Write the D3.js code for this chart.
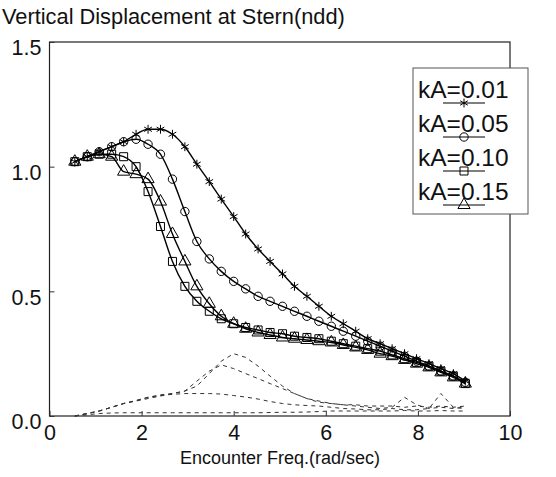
<!DOCTYPE html>
<html>
<head>
<meta charset="utf-8">
<script src="https://cdn.jsdelivr.net/npm/d3@7"></script>
<style>
  body { margin: 0; background: #fff; }
  text { font-family: "Liberation Sans", Arial, sans-serif; fill: #111; }
</style>
</head>
<body>
<div id="chart-area"></div>
<script>
// Encounter frequencies (rad/sec)
let freq = [0.55, 0.82, 1.08, 1.35, 1.61, 1.88, 2.14, 2.41, 2.67, 2.94, 3.20,
            3.47, 3.73, 4.00, 4.26, 4.53, 4.79, 5.06, 5.32, 5.59, 5.85, 6.12,
            6.38, 6.65, 6.91, 7.18, 7.44, 7.71, 7.97, 8.24, 8.50, 8.77, 9.03];

// Solid curves, one per wave steepness
let kA001 = [1.02, 1.04, 1.06, 1.08, 1.10, 1.13, 1.15, 1.15, 1.13, 1.08, 1.01,
             0.94, 0.87, 0.80, 0.73, 0.67, 0.62, 0.57, 0.52, 0.48, 0.44, 0.40,
             0.37, 0.34, 0.31, 0.29, 0.27, 0.25, 0.23, 0.21, 0.19, 0.17, 0.14];
let kA005 = [1.02, 1.04, 1.06, 1.08, 1.10, 1.11, 1.09, 1.05, 0.95, 0.82, 0.70,
             0.63, 0.58, 0.54, 0.51, 0.48, 0.46, 0.44, 0.42, 0.40, 0.38, 0.36,
             0.34, 0.32, 0.30, 0.28, 0.26, 0.24, 0.22, 0.20, 0.18, 0.16, 0.135];
let kA010 = [1.02, 1.04, 1.05, 1.05, 1.04, 1.00, 0.90, 0.76, 0.62, 0.52, 0.46,
             0.42, 0.39, 0.37, 0.355, 0.345, 0.335, 0.33, 0.32, 0.315, 0.31, 0.30,
             0.29, 0.28, 0.27, 0.26, 0.245, 0.23, 0.215, 0.20, 0.18, 0.16, 0.13];
let kA015 = [1.02, 1.04, 1.05, 1.04, 0.98, 0.97, 0.95, 0.86, 0.73, 0.62, 0.52,
             0.45, 0.40, 0.37, 0.35, 0.335, 0.325, 0.315, 0.31, 0.305, 0.30, 0.295,
             0.285, 0.275, 0.265, 0.25, 0.24, 0.225, 0.21, 0.195, 0.175, 0.155, 0.13];

// Dashed curves
let dashA = [0.0, 0.01, 0.02, 0.035, 0.05, 0.06, 0.07, 0.08, 0.09, 0.10, 0.12,
             0.17, 0.22, 0.25, 0.235, 0.20, 0.16, 0.12, 0.09, 0.07, 0.06, 0.05,
             0.045, 0.045, 0.04, 0.04, 0.04, 0.035, 0.04, 0.035, 0.04, 0.035, 0.04];
let dashB = [0.0, 0.01, 0.02, 0.035, 0.05, 0.062, 0.075, 0.085, 0.09, 0.10, 0.14,
             0.18, 0.205, 0.19, 0.17, 0.15, 0.13, 0.11, 0.09, 0.07, 0.055, 0.05,
             0.045, 0.04, 0.035, 0.03, 0.035, 0.075, 0.045, 0.03, 0.035, 0.03, 0.035];
let dashC = [0.0, 0.01, 0.02, 0.035, 0.05, 0.062, 0.075, 0.082, 0.087, 0.09, 0.09,
             0.09, 0.088, 0.082, 0.076, 0.068, 0.058, 0.05, 0.045, 0.042, 0.04, 0.035,
             0.03, 0.028, 0.025, 0.025, 0.03, 0.025, 0.025, 0.03, 0.09, 0.035, 0.03];
let dashD = [0.0, 0.005, 0.01, 0.012, 0.013, 0.013, 0.013, 0.013, 0.013, 0.013, 0.013,
             0.013, 0.013, 0.013, 0.013, 0.013, 0.014, 0.015, 0.015, 0.016, 0.018, 0.02,
             0.02, 0.02, 0.02, 0.02, 0.02, 0.022, 0.02, 0.02, 0.022, 0.02, 0.02];

let legendLabels = ["kA=0.01", "kA=0.05", "kA=0.10", "kA=0.15"];
let xTicks = [0, 2, 4, 6, 8, 10];
let yTicks = [0.0, 0.5, 1.0, 1.5];

let W = 556, H = 477;
let svg = d3.select("#chart-area").append("svg")
    .attr("width", W)
    .attr("height", H);

// Scales
let x = d3.scaleLinear().domain([0, 10]).range([49.5, 510]);
let y = d3.scaleLinear().domain([0, 1.5]).range([416, 42]);

// Title
svg.append("text")
    .attr("x", 2).attr("y", 24)
    .style("font-size", "21.8px")
    .text("Vertical Displacement at Stern(ndd)");

// Frame
svg.append("rect")
    .attr("x", x(0)).attr("y", y(1.5))
    .attr("width", x(10) - x(0)).attr("height", y(0) - y(1.5))
    .attr("fill", "none").attr("stroke", "#222").attr("stroke-width", 1.2);

// Axes (ticks inside, labels outside)
let xAxis = svg.append("g")
    .attr("transform", `translate(0,${y(0)})`)
    .call(d3.axisBottom(x).tickValues(xTicks).tickSizeInner(-5).tickSizeOuter(0)
        .tickPadding(9).tickFormat(d3.format("d")));
let yAxis = svg.append("g")
    .attr("transform", `translate(${x(0)},0)`)
    .call(d3.axisLeft(y).tickValues(yTicks).tickSizeInner(-5).tickSizeOuter(0)
        .tickPadding(8).tickFormat(d3.format(".1f")));
[xAxis, yAxis].forEach(g => {
    g.select(".domain").remove();
    g.selectAll("line").attr("stroke", "#333");
    g.selectAll("text").style("font-size", "21.5px")
        .style("font-family", "'Liberation Sans', Arial, sans-serif").attr("fill", "#111");
});
xAxis.selectAll("text").attr("dy", "0.7em");
yAxis.selectAll("text").attr("dy", "0.6em");

svg.append("text")
    .attr("x", 280).attr("y", 464)
    .attr("text-anchor", "middle")
    .style("font-size", "18px")
    .text("Encounter Freq.(rad/sec)");

// Dashed curves
let line = d3.line()
    .x(d => x(d[0]))
    .y(d => y(d[1]));

[dashA, dashB, dashC, dashD].forEach(vals => {
    svg.append("path")
        .datum(freq.map((f, i) => [f, vals[i]]))
        .attr("d", line)
        .attr("fill", "none")
        .attr("stroke", "#333")
        .attr("stroke-width", 1)
        .attr("stroke-dasharray", "4,4");
});

// Solid curves with markers
let smooth = d3.line()
    .x(d => x(d[0]))
    .y(d => y(d[1]))
    .curve(d3.curveMonotoneX);

let symbols = [d3.symbolAsterisk, d3.symbolCircle, d3.symbolSquare, d3.symbolTriangle];
let sizes = [55, 55, 64, 64];
let series = [kA001, kA005, kA010, kA015];

series.forEach((vals, k) => {
    let pts = freq.map((f, i) => [f, vals[i]]);
    svg.append("path")
        .datum(pts)
        .attr("d", smooth)
        .attr("fill", "none")
        .attr("stroke", "#000")
        .attr("stroke-width", 1.4);
    svg.selectAll(".m" + k)
        .data(pts)
        .enter().append("path")
        .attr("class", "m" + k)
        .attr("transform", d => `translate(${x(d[0])},${y(d[1])})`)
        .attr("d", d3.symbol().type(symbols[k]).size(sizes[k]))
        .attr("fill", "none")
        .attr("stroke", "#000")
        .attr("stroke-width", 1);
});

// Legend
let legend = svg.append("g");
legend.append("rect")
    .attr("x", 413).attr("y", 68)
    .attr("width", 115).attr("height", 146)
    .attr("fill", "#fff").attr("stroke", "#555").attr("stroke-width", 1);

legendLabels.forEach((lab, k) => {
    let ty = 98 + k * 34;
    legend.append("text")
        .attr("x", 418).attr("y", ty)
        .style("font-size", "24.5px")
        .text(lab);
    legend.append("line")
        .attr("x1", 443).attr("x2", 485)
        .attr("y1", ty + 5).attr("y2", ty + 5)
        .attr("stroke", "#000").attr("stroke-width", 1.2);
    legend.append("path")
        .attr("transform", `translate(464,${ty + 5})`)
        .attr("d", d3.symbol().type(symbols[k]).size(sizes[k]))
        .attr("fill", "none").attr("stroke", "#000");
});
</script>
</body>
</html>
